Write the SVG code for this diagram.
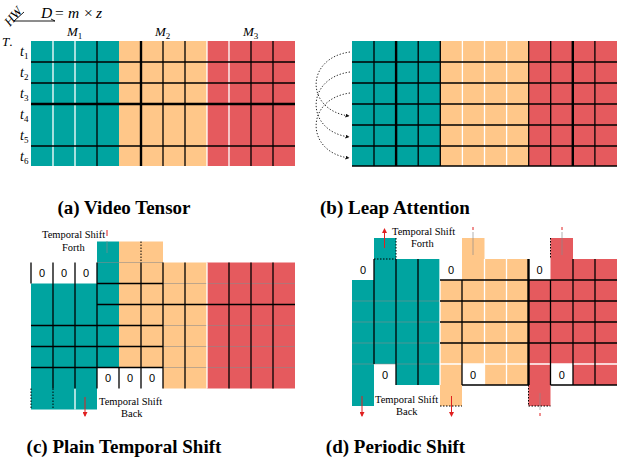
<svg xmlns="http://www.w3.org/2000/svg" width="620" height="460" viewBox="0 0 620 460">
<defs>
<style>
.teal{fill:#00A4A0}
.org{fill:#FFC789}
.red{fill:#E55A5E}
.k{stroke:#000;stroke-width:1.3;fill:none}
.kk{stroke:#000;stroke-width:2.4;fill:none}
.w{stroke:#fff;stroke-width:1.3;fill:none}
.d{stroke:#000;stroke-width:1;stroke-dasharray:1.5 1.5;fill:none}
.g{stroke:#8a8a8a;stroke-opacity:0.55;stroke-width:1.2;fill:none}
.rl{stroke:#e02020;stroke-width:1;fill:none}
.ser{font-family:"Liberation Serif","Times New Roman",serif}
.it{font-family:"Liberation Serif","Times New Roman",serif;font-style:italic}
.cap{font-family:"Liberation Serif","Times New Roman",serif;font-weight:bold;font-size:19px;text-anchor:middle}
.lbl{font-family:"Liberation Serif","Times New Roman",serif;font-size:10.5px}
.z{font-family:"Liberation Sans",Arial,sans-serif;font-size:11px;text-anchor:middle}
</style>
<marker id="ah" markerWidth="4" markerHeight="4" refX="3.5" refY="2" orient="auto" markerUnits="userSpaceOnUse">
<path d="M0,0 L4,2 L0,4 Z" fill="#111"/>
</marker>
<marker id="rh" markerWidth="5" markerHeight="5" refX="4" refY="2.5" orient="auto" markerUnits="userSpaceOnUse">
<path d="M0,0 L5,2.5 L0,5 Z" fill="#e02020"/>
</marker>
</defs>
<rect width="620" height="460" fill="#fff"/>

<!-- Panel (a) -->
<g id="panel-a">
<text class="it" font-size="13" transform="translate(10,27) rotate(-50)">HW</text>
<path d="M24,12 L14,21 L55,21" stroke="#000" stroke-width="0.9" fill="none"/>
<path d="M51,19 L55,21" stroke="#000" stroke-width="0.9"/>
<text class="it" font-size="15.5" y="18"><tspan x="41">D</tspan><tspan x="55" font-style="normal">=</tspan><tspan x="68">m</tspan><tspan x="84" font-style="normal">×</tspan><tspan x="96">z</tspan></text>
<text class="it" font-size="13" x="67" y="36">M<tspan font-size="9" font-style="normal" dy="3">1</tspan></text>
<text class="it" font-size="13" x="155" y="36">M<tspan font-size="9" font-style="normal" dy="3">2</tspan></text>
<text class="it" font-size="13" x="243" y="36">M<tspan font-size="9" font-style="normal" dy="3">3</tspan></text>
<text class="it" font-size="13" x="2" y="46">T<tspan font-style="normal">.</tspan></text>
<g class="it" font-size="14">
<text x="20" y="56">t<tspan font-size="9" font-style="normal" dy="3">1</tspan></text>
<text x="20" y="77">t<tspan font-size="9" font-style="normal" dy="3">2</tspan></text>
<text x="20" y="98">t<tspan font-size="9" font-style="normal" dy="3">3</tspan></text>
<text x="20" y="119">t<tspan font-size="9" font-style="normal" dy="3">4</tspan></text>
<text x="20" y="140">t<tspan font-size="9" font-style="normal" dy="3">5</tspan></text>
<text x="20" y="161">t<tspan font-size="9" font-style="normal" dy="3">6</tspan></text>
</g>
<rect class="teal" x="31" y="41" width="88" height="125"/>
<rect class="org" x="119" y="41" width="88" height="125"/>
<rect class="red" x="207" y="41" width="88" height="125"/>
<path class="w" d="M53,41V166 M75,41V166 M207,41V166 M229,41V166"/>
<path class="k" d="M31,62H295 M31,83H295 M31,146H295"/>
<path class="kk" d="M31,104H295"/>
<path class="k" d="M97,41V166 M163,41V166 M185,41V166 M251,41V166 M273,41V166"/>
<path class="kk" d="M141,41V166"/>
<text class="cap" x="124" y="214">(a) Video Tensor</text>
</g>

<!-- Panel (b) -->
<g id="panel-b">
<rect class="teal" x="352" y="41" width="88.3" height="125"/>
<rect class="org" x="440.3" y="41" width="88.4" height="125"/>
<rect class="red" x="528.7" y="41" width="88.3" height="125"/>
<path class="w" d="M462.4,41V166 M484.5,41V166 M506.6,41V166"/>
<path class="k" d="M352,62H617 M352,83H617 M352,104H617 M352,125H617 M352,146H617 M352,166H617"/>
<path class="k" d="M374,41V166 M418.2,41V166 M440.3,41V166 M528.7,41V166 M550.7,41V166 M594.9,41V166"/>
<path class="kk" d="M396.1,41V166 M572.8,41V166"/>
<text class="cap" x="395" y="214">(b) Leap Attention</text>
</g>

<g id="connectors">
<path d="M350,52 C305,58 305,110 349,116" stroke="#111" stroke-width="0.9" stroke-dasharray="1.3 1.8" fill="none" marker-end="url(#ah)"/>
<path d="M350,72 C305,78 305,131 349,137" stroke="#111" stroke-width="0.9" stroke-dasharray="1.3 1.8" fill="none" marker-end="url(#ah)"/>
<path d="M350,93 C305,99 305,152 349,158" stroke="#111" stroke-width="0.9" stroke-dasharray="1.3 1.8" fill="none" marker-end="url(#ah)"/>
</g>

<!-- Panel (c) -->
<g id="panel-c">
<rect class="teal" x="31" y="283.5" width="66" height="126"/>
<rect class="teal" x="97" y="241.5" width="22" height="126"/>
<rect class="org" x="119" y="241.5" width="44" height="126"/>
<rect class="org" x="163" y="262.5" width="44" height="126"/>
<rect class="red" x="207" y="262.5" width="88" height="126"/>
<path class="g" d="M97,262.5H163 M163,283.5H295 M163,325.5H295 M163,346.5H295 M163,367.5H295"/>
<path class="w" d="M207,262.5V388.5 M75,388.5V409.5"/>
<path class="k" d="M97,283.5H163 M97,304.5H295 M31,325.5H163 M31,346.5H163 M31,367.5H163"/>
<path class="k" d="M31,262.5V283.5 M53,262.5V388.5 M75,262.5V388.5 M97,262.5V388.5 M119,367.5V388.5 M141,262.5V388.5 M163,262.5V388.5 M185,262.5V388.5 M229,262.5V388.5 M251,262.5V388.5 M273,262.5V388.5"/>
<path class="d" d="M141,241.5V262.5 M31,388.5V409.5 M53,388.5V409.5"/>
<text class="z" x="42" y="277">0</text>
<text class="z" x="64" y="277">0</text>
<text class="z" x="86" y="277">0</text>
<text class="z" x="108" y="382">0</text>
<text class="z" x="130" y="382">0</text>
<text class="z" x="152" y="382">0</text>
<text class="lbl" x="42" y="238">Temporal Shift</text>
<text class="lbl" x="62" y="251">Forth</text>
<text class="lbl" x="99" y="405">Temporal Shift</text>
<text class="lbl" x="121" y="417">Back</text>
<path class="g" d="M107,241V253"/>
<path class="rl" d="M107,236V230"/>
<path class="rl" d="M85,397V416" marker-end="url(#rh)"/>
<text class="cap" x="124" y="453">(c) Plain Temporal Shift</text>
</g>

<!-- Panel (d) -->
<g id="panel-d">
<rect class="teal" x="352" y="280" width="22" height="126"/>
<rect class="teal" x="374" y="238" width="22" height="126"/>
<rect class="teal" x="396" y="259" width="44" height="126"/>
<rect class="org" x="440" y="280" width="22" height="126"/>
<rect class="org" x="462" y="238" width="22.5" height="126"/>
<rect class="org" x="484.5" y="259" width="44" height="126"/>
<rect class="red" x="528.5" y="280" width="22" height="126"/>
<rect class="red" x="550.5" y="238" width="22.5" height="126"/>
<rect class="red" x="573" y="259" width="44" height="126"/>
<path class="g" d="M352,301H440 M352,322H440 M352,343H440 M352,364H440"/>
<path class="w" d="M440,259V385 M484.5,259V385 M506.5,259V385 M440,364H617"/>
<path class="k" d="M440,280H617 M440,301H617 M440,322H617 M440,343H617 M462,385H528.5 M550.5,385H617"/>
<path class="k" d="M374,259V364 M396,259V385 M418,259V385 M462,280V385 M550.5,280V385 M573,259V385 M595,259V385"/>
<path class="kk" d="M528.5,259V385"/>
<path class="d" d="M396,238V259 M374,259H396 M440,406H462 M528.5,385V406 M528.5,406H550.5 M550.5,238V259"/>
<text class="z" x="363" y="274">0</text>
<text class="z" x="451" y="274">0</text>
<text class="z" x="539.5" y="274">0</text>
<text class="z" x="385" y="379">0</text>
<text class="z" x="473" y="379">0</text>
<text class="z" x="561.7" y="379">0</text>
<text class="lbl" x="392" y="235">Temporal Shift</text>
<text class="lbl" x="411" y="247">Forth</text>
<text class="lbl" x="375" y="403">Temporal Shift</text>
<text class="lbl" x="396" y="415">Back</text>
<path class="rl" d="M384.5,248V229" marker-end="url(#rh)"/>
<path class="g" d="M473,232V255 M562,232V255 M540,393V410"/>
<path class="rl" d="M473,227V230 M562,227V230 M540,413V416"/>
<path class="rl" d="M362,396V416" marker-end="url(#rh)"/>
<path class="rl" d="M451.5,396V416" marker-end="url(#rh)"/>
<text class="cap" x="395.5" y="453">(d) Periodic Shift</text>
</g>
</svg>
